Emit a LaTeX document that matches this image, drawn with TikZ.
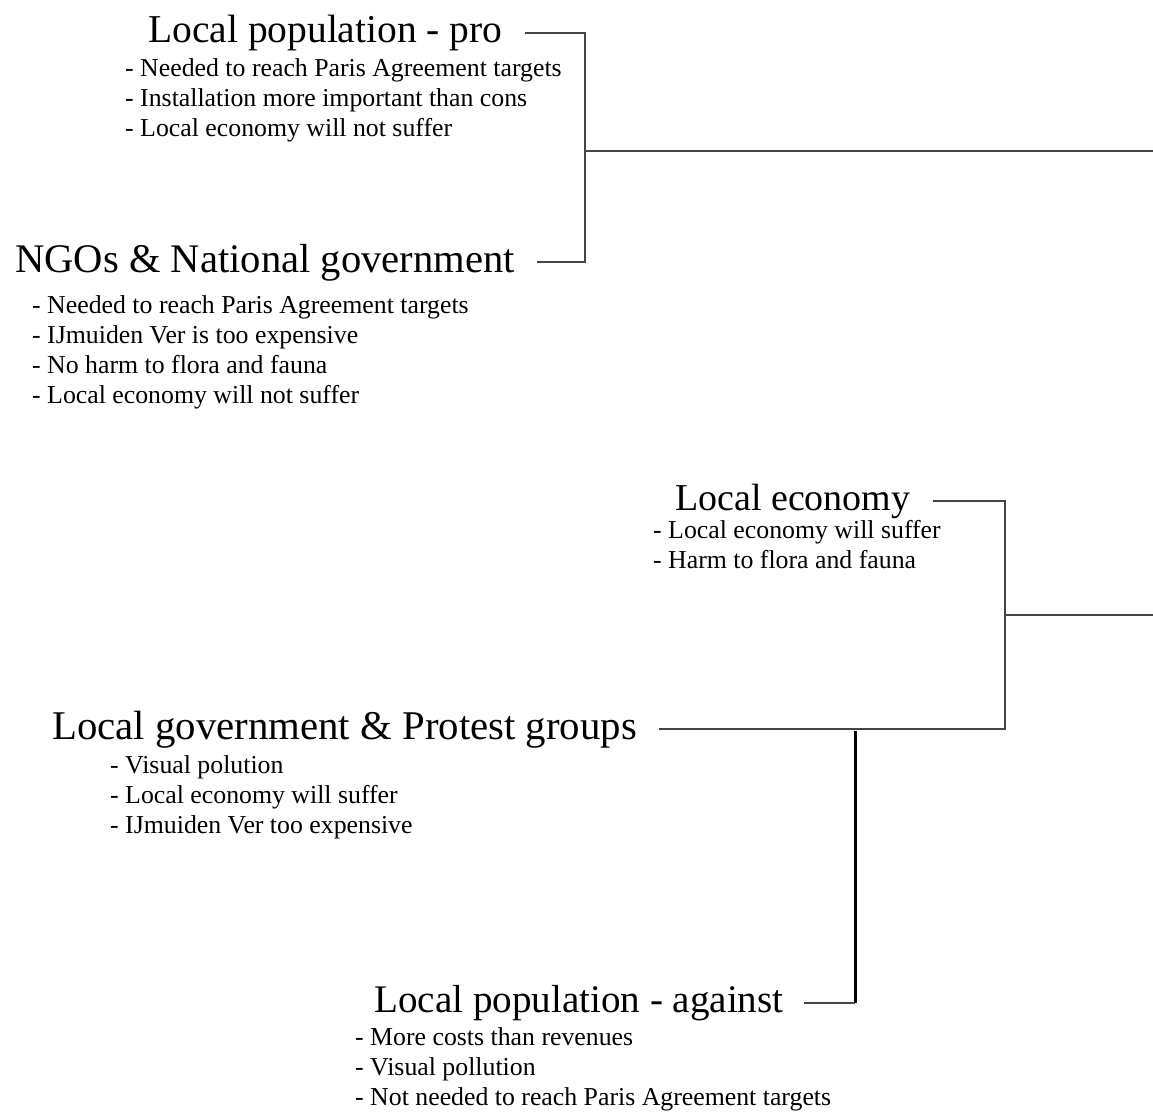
\documentclass[tikz,border=0pt]{standalone}
\usepackage{fontspec}
\setmainfont{Liberation Serif}
\usepackage{tikz}
\usetikzlibrary{calc,positioning}
\definecolor{linegray}{rgb}{0.27,0.27,0.27}
\tikzset{
  actor/.style={
    font=\fontsize{39.5}{44}\selectfont,
    inner sep=0pt,
    anchor=base west
  },
  points/.style={
    font=\fontsize{25.8}{30}\selectfont,
    align=left,
    inner sep=0pt,
    anchor=north west
  },
  link/.style={
    line width=2pt,
    linegray,
    shorten <=22pt,
    shorten >=22pt
  },
  trunk/.style={
    line width=2pt,
    linegray
  },
  stem/.style={
    line width=3pt,
    black
  }
}

\begin{document}
\begin{tikzpicture}[x=1pt,y=-1pt]
\useasboundingbox (0,0) rectangle (1153,1112);
% pro side
\node[actor] (pro) at (148,42) {Local population - pro};
\node[points] (prolist) at (125,58) {- Needed to reach Paris Agreement targets\\- Installation more important than cons\\- Local economy will not suffer};
\node[actor,font=\fontsize{40.6}{44}\selectfont] (ngo) at (15,272) {NGOs \& National government};
\node[points] (ngolist) at (32,295) {- Needed to reach Paris Agreement targets\\- IJmuiden Ver is too expensive\\- No harm to flora and fauna\\- Local economy will not suffer};
% against side
\node[actor,font=\fontsize{38}{44}\selectfont] (econ) at (675,510) {Local economy};
\node[points] (econlist) at (653,520) {- Local economy will suffer\\- Harm to flora and fauna};
\node[actor,font=\fontsize{40.8}{44}\selectfont] (gov) at (52,739) {Local government \& Protest groups};
\node[points] (govlist) at (110,755) {- Visual polution\\- Local economy will suffer\\- IJmuiden Ver too expensive};
\node[actor,font=\fontsize{39.1}{44}\selectfont] (con) at (374,1012) {Local population - against};
\node[points] (conlist) at (355,1027) {- More costs than revenues\\- Visual pollution\\- Not needed to reach Paris Agreement targets};

\coordinate (j1) at (585,151);
\coordinate (out1) at (1153,151);
\coordinate (j2) at (1005,615);
\coordinate (out2) at (1153,615);
\coordinate (j3) at (855,731);
\coordinate (j4) at (j3 |- con.east);

\draw[link] (pro.east) -| (j1) |- (ngo.east);
\draw[trunk] (j1) -- (out1);
\draw[link] (econ.east) -| (j2) |- (gov.east);
\draw[trunk] (j2) -- (out2);
\draw[stem] (j3) -- (j4);
\draw[link,shorten >=0pt,shorten <=20pt] (con.east) -- (j4);
\end{tikzpicture}
\end{document}
